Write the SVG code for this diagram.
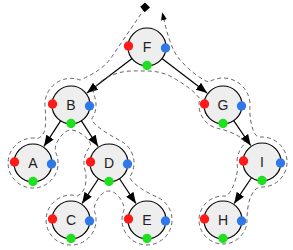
<svg xmlns="http://www.w3.org/2000/svg" width="293" height="250" viewBox="0 0 293 250">
<defs>
<marker id="arr" viewBox="0 0 10 8" refX="10" refY="4" markerWidth="11" markerHeight="9" markerUnits="userSpaceOnUse" orient="auto">
<path d="M0,0 L10,4 L0,8 z" fill="#000"/>
</marker>
<marker id="darr" viewBox="0 0 8 6" refX="0" refY="3" markerWidth="8" markerHeight="6.5" markerUnits="userSpaceOnUse" orient="auto">
<path d="M0,0 L8,3 L0,6 z" fill="#000"/>
</marker>
<style>
.edge{stroke:#000;stroke-width:1.2;fill:none;marker-end:url(#arr)}
.walk{stroke:#555;stroke-width:0.9;fill:none;stroke-dasharray:4 3}
.node circle.body{fill:#eeeeee;stroke:#000;stroke-width:1.2}
.node text{font-family:"Liberation Sans",Arial,sans-serif;font-size:14px;fill:#222;text-anchor:middle}
.pre{fill:#ff1a1a}
.post{fill:#2f78e8}
.in{fill:#1ee01e}
</style>
</defs>
<g id="connectors">
<line class="edge" x1="132.7" y1="57.9" x2="86.9" y2="92.9"/>
<line class="edge" x1="161.3" y1="57.9" x2="207.1" y2="92.9"/>
<line class="edge" x1="61.1" y1="120.1" x2="44" y2="146.3"/>
<line class="edge" x1="80.9" y1="120.1" x2="98" y2="146.3"/>
<line class="edge" x1="99" y1="178" x2="82.1" y2="203.4"/>
<line class="edge" x1="119" y1="178" x2="135.9" y2="203.4"/>
<line class="edge" x1="233.2" y1="119.9" x2="250.7" y2="145.5"/>
<line class="edge" x1="252" y1="177" x2="234.2" y2="203.4"/>
<path class="walk" marker-end="url(#darr)" d="M145,8 L113,55 Q104,70 80,80 A26,26 0 0 0 45.2,108.2 C46,122 47,136 37.3,138.4 A25,25 0 1 0 55.7,152.4 C52.8,146 62,130 71,130 C80,130 93.6,142.3 89.8,146.9 A25,25 0 0 0 85.5,171.6 C87,180 86,192 77.5,195.9 A25,25 0 1 0 94.5,211.4 C92.5,205.8 100,191 109,191 C118,191 126.4,206.2 123.5,211.4 A25,25 0 1 0 157.6,197.3 C150,194 134,186 129.5,177.3 A25,25 0 0 0 123.3,142.5 C112,136 96,128 91.5,119.3 A25,25 0 0 0 93.7,94.4 C91,88.5 102,78 115,74 C126,70 136,71 147,71 C158,71 168,74 177,80 C187,86 195,92 199.8,98.8 A24,24 0 0 0 218.8,128.6 C230,131 248,139 244.3,144.3 A25,25 0 0 0 237.4,166.3 C238.5,173 232,195 225.1,196.1 A24,24 0 1 0 247,220 C247,204 251,187 262,187 A25,25 0 1 0 259.8,137.1 C252,137.5 249.2,115.4 249.9,107.4 A27,27 0 0 0 208.7,82.1 C200,79 186,68 177,56 C171,47 167,33 164,20"/>
<polygon points="140.2,6.7 145,2.5 150,7.5 144.7,12.2" fill="#000"/>
</g>
<g id="node-F" class="node"><circle class="body" cx="147" cy="47" r="19"/><text x="147" y="52">F</text><circle class="pre" cx="128.5" cy="46" r="4.7"/><circle class="post" cx="165.5" cy="48" r="4.7"/><circle class="in" cx="147" cy="65.5" r="4.7"/></g>
<g id="node-B" class="node"><circle class="body" cx="71" cy="105" r="19"/><text x="71" y="110">B</text><circle class="pre" cx="52.5" cy="104" r="4.7"/><circle class="post" cx="89.5" cy="106" r="4.7"/><circle class="in" cx="71" cy="123.5" r="4.7"/></g>
<g id="node-A" class="node"><circle class="body" cx="33" cy="163" r="19"/><text x="33" y="168">A</text><circle class="pre" cx="14.5" cy="162" r="4.7"/><circle class="post" cx="51.5" cy="164" r="4.7"/><circle class="in" cx="33" cy="181.5" r="4.7"/></g>
<g id="node-D" class="node"><circle class="body" cx="109" cy="163" r="19"/><text x="109" y="168">D</text><circle class="pre" cx="90.5" cy="162" r="4.7"/><circle class="post" cx="127.5" cy="164" r="4.7"/><circle class="in" cx="109" cy="181.5" r="4.7"/></g>
<g id="node-C" class="node"><circle class="body" cx="71" cy="220" r="19"/><text x="71" y="225">C</text><circle class="pre" cx="52.5" cy="219" r="4.7"/><circle class="post" cx="89.5" cy="221" r="4.7"/><circle class="in" cx="71" cy="238.5" r="4.7"/></g>
<g id="node-E" class="node"><circle class="body" cx="147" cy="220" r="19"/><text x="147" y="225">E</text><circle class="pre" cx="128.5" cy="219" r="4.7"/><circle class="post" cx="165.5" cy="221" r="4.7"/><circle class="in" cx="147" cy="238.5" r="4.7"/></g>
<g id="node-G" class="node"><circle class="body" cx="223" cy="105" r="19"/><text x="223" y="110">G</text><circle class="pre" cx="204.5" cy="104" r="4.7"/><circle class="post" cx="241.5" cy="106" r="4.7"/><circle class="in" cx="223" cy="123.5" r="4.7"/></g>
<g id="node-I" class="node"><circle class="body" cx="262" cy="162" r="19"/><text x="262" y="167">I</text><circle class="pre" cx="243.5" cy="161" r="4.7"/><circle class="post" cx="280.5" cy="163" r="4.7"/><circle class="in" cx="262" cy="180.5" r="4.7"/></g>
<g id="node-H" class="node"><circle class="body" cx="223" cy="220" r="19"/><text x="223" y="225">H</text><circle class="pre" cx="204.5" cy="219" r="4.7"/><circle class="post" cx="241.5" cy="221" r="4.7"/><circle class="in" cx="223" cy="238.5" r="4.7"/></g>
</svg>
